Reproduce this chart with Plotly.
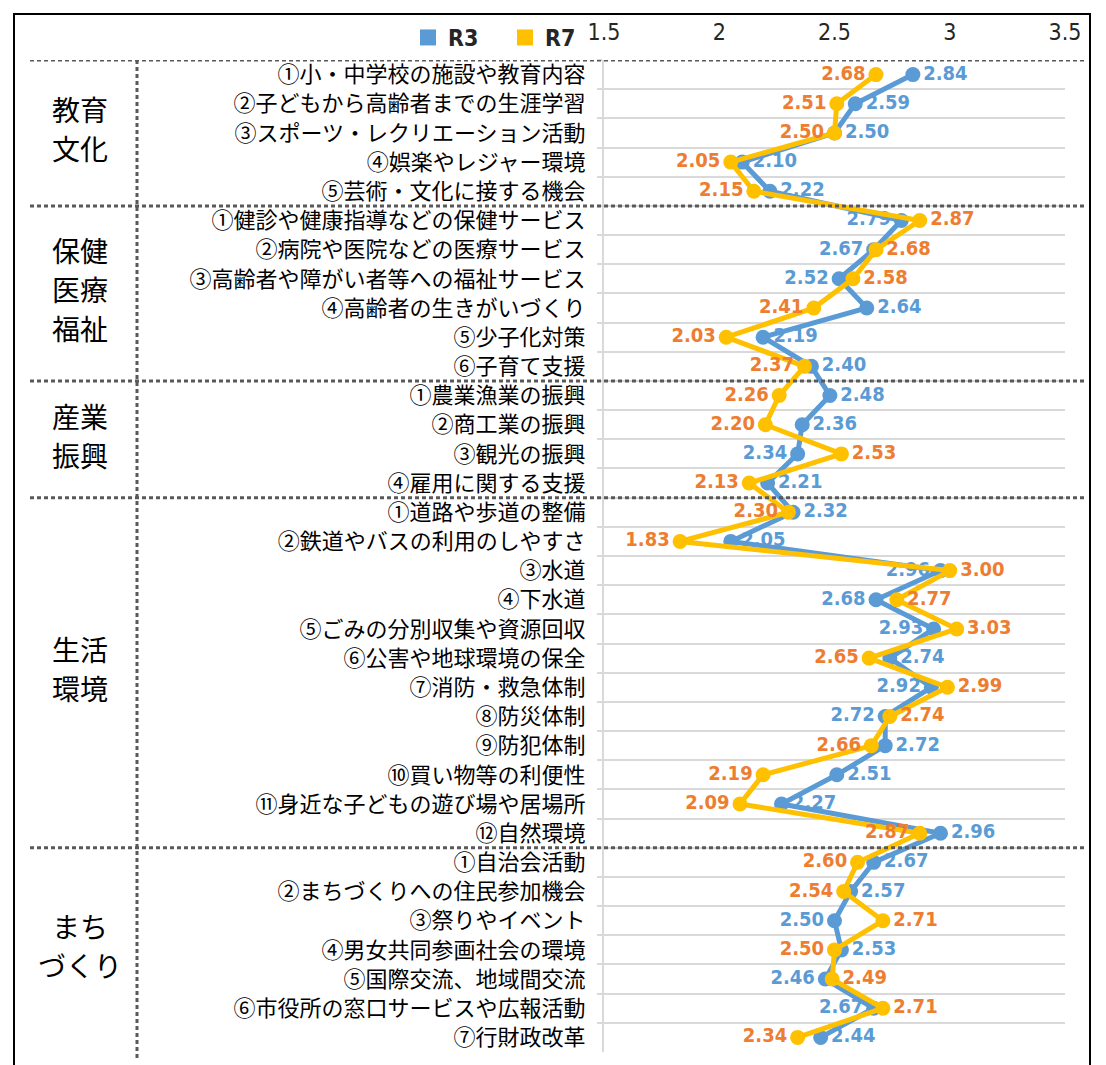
import plotly.graph_objects as go

groups = [["教育", "文化"], ["保健", "医療", "福祉"], ["産業", "振興"], ["生活", "環境"], ["まち", "づくり"]]
group_sizes = [5, 6, 4, 12, 7]

categories = [
    "①小・中学校の施設や教育内容",
    "②子どもから高齢者までの生涯学習",
    "③スポーツ・レクリエーション活動",
    "④娯楽やレジャー環境",
    "⑤芸術・文化に接する機会",
    "①健診や健康指導などの保健サービス",
    "②病院や医院などの医療サービス",
    "③高齢者や障がい者等への福祉サービス",
    "④高齢者の生きがいづくり",
    "⑤少子化対策",
    "⑥子育て支援",
    "①農業漁業の振興",
    "②商工業の振興",
    "③観光の振興",
    "④雇用に関する支援",
    "①道路や歩道の整備",
    "②鉄道やバスの利用のしやすさ",
    "③水道",
    "④下水道",
    "⑤ごみの分別収集や資源回収",
    "⑥公害や地球環境の保全",
    "⑦消防・救急体制",
    "⑧防災体制",
    "⑨防犯体制",
    "⑩買い物等の利便性",
    "⑪身近な子どもの遊び場や居場所",
    "⑫自然環境",
    "①自治会活動",
    "②まちづくりへの住民参加機会",
    "③祭りやイベント",
    "④男女共同参画社会の環境",
    "⑤国際交流、地域間交流",
    "⑥市役所の窓口サービスや広報活動",
    "⑦行財政改革",
]

r3 = [2.84, 2.59, 2.50, 2.10, 2.22,
      2.79, 2.67, 2.52, 2.64, 2.19, 2.40,
      2.48, 2.36, 2.34, 2.21,
      2.32, 2.05, 2.96, 2.68, 2.93, 2.74, 2.92, 2.72, 2.72, 2.51, 2.27, 2.96,
      2.67, 2.57, 2.50, 2.53, 2.46, 2.67, 2.44]

r7 = [2.68, 2.51, 2.50, 2.05, 2.15,
      2.87, 2.68, 2.58, 2.41, 2.03, 2.37,
      2.26, 2.20, 2.53, 2.13,
      2.30, 1.83, 3.00, 2.77, 3.03, 2.65, 2.99, 2.74, 2.66, 2.19, 2.09, 2.87,
      2.60, 2.54, 2.71, 2.50, 2.49, 2.71, 2.34]

x_ticks = [1.5, 2, 2.5, 3, 3.5]
x_tick_labels = ["1.5", "2", "2.5", "3", "3.5"]

BLUE = "#5B9BD5"
YELLOW = "#FFC000"
ORANGE = "#ED7D31"
NUM_FONT = "Liberation Sans Narrow, DejaVu Sans Condensed, Roboto Condensed, Noto Sans"
JP_FONT = "Noto Sans CJK JP"

W, H = 1106, 1065
L, R, T, B = 604, 41, 60, 13
pw = W - L - R
ph = H - T - B
n = len(categories)
row_px = ph / n


def px_to_paper_x(px):
    return (px - L) / pw


def px_to_paper_y(py):
    return (H - B - py) / ph


pos_r3 = ["middle right" if a >= b else "middle left" for a, b in zip(r3, r7)]
pos_r7 = ["middle left" if a >= b else "middle right" for a, b in zip(r3, r7)]

fig = go.Figure()
fig.add_trace(go.Scatter(
    x=r3, y=categories, mode="lines+markers+text", name="R3",
    line=dict(color=BLUE, width=5), marker=dict(color=BLUE, size=15),
    text=[f"{v:.2f}" for v in r3], textposition=pos_r3,
    textfont=dict(color=BLUE, size=20, family=NUM_FONT, weight="bold"),
    showlegend=False, cliponaxis=False,
))
fig.add_trace(go.Scatter(
    x=r7, y=categories, mode="lines+markers+text", name="R7",
    line=dict(color=YELLOW, width=5), marker=dict(color=YELLOW, size=15),
    text=[f"{v:.2f}" for v in r7], textposition=pos_r7,
    textfont=dict(color=ORANGE, size=20, family=NUM_FONT, weight="bold"),
    showlegend=False, cliponaxis=False,
))
# legend entries (square swatches)
for nm, col in [("R3", BLUE), ("R7", YELLOW)]:
    fig.add_trace(go.Scatter(
        x=[None], y=[None], mode="markers", name=nm,
        marker=dict(symbol="square", color=col, size=18),
    ))

shapes = []
DOT = "4px,3px"
bounds = [-0.5]
acc = -0.5
for s in group_sizes[:-1]:
    acc += s
    bounds.append(acc)
for b in bounds:
    shapes.append(dict(type="line", xref="paper", yref="y",
                       x0=px_to_paper_x(30), x1=px_to_paper_x(1086), y0=b, y1=b,
                       line=dict(color="#595959", width=3, dash=DOT)))
shapes.append(dict(type="line", xref="paper", yref="paper",
                   x0=px_to_paper_x(137), x1=px_to_paper_x(137),
                   y0=px_to_paper_y(60), y1=px_to_paper_y(1058),
                   line=dict(color="#595959", width=3, dash=DOT)))
shapes.append(dict(type="rect", xref="paper", yref="paper",
                   x0=px_to_paper_x(14), x1=px_to_paper_x(1090),
                   y0=px_to_paper_y(1075), y1=px_to_paper_y(14),
                   line=dict(color="#000000", width=2), fillcolor="rgba(0,0,0,0)"))

annotations = []
LINE_GAP = 39  # px between lines of a group label
start = 0
for g, s in zip(groups, group_sizes):
    mid_px = T + (start + s / 2) * row_px - 4
    k = len(g)
    for i, part in enumerate(g):
        py = mid_px + (i - (k - 1) / 2) * LINE_GAP
        annotations.append(dict(
            text=part, xref="paper", yref="paper",
            x=px_to_paper_x(80), y=px_to_paper_y(py),
            showarrow=False, xanchor="center", yanchor="middle", align="center",
            font=dict(family=JP_FONT, size=28, color="#000000"),
        ))
    start += s

fig.update_layout(
    width=W, height=H,
    margin=dict(l=L, r=R, t=T, b=B, autoexpand=False),
    paper_bgcolor="white", plot_bgcolor="white",
    shapes=shapes, annotations=annotations,
    legend=dict(orientation="h", x=px_to_paper_x(408), y=px_to_paper_y(16),
                xanchor="left", yanchor="top",
                font=dict(family=NUM_FONT, size=23, color="#262626", weight="bold"),
                bgcolor="rgba(0,0,0,0)", itemwidth=30, tracegroupgap=0,
                entrywidth=52, entrywidthmode="pixels"),
    xaxis=dict(
        side="top", range=[1.5, 3.5], tickvals=x_ticks, ticktext=x_tick_labels,
        showgrid=False, zeroline=False, showline=False,
        ticks="outside", ticklen=10, tickcolor="rgba(0,0,0,0)",
        tickfont=dict(family=NUM_FONT, size=23, color="#262626"),
    ),
    yaxis=dict(
        type="category", categoryorder="array", categoryarray=categories,
        range=[n - 0.5, -0.5], tickson="boundaries",
        showgrid=True, gridcolor="#d9d9d9", gridwidth=2,
        showline=True, linecolor="#d9d9d9", linewidth=2,
        ticks="outside", ticklen=5, tickcolor="#d9d9d9", tickwidth=2,
        ticklabelstandoff=12,
        tickfont=dict(family=JP_FONT, size=22, color="#000000"),
        zeroline=False,
    ),
)

fig.write_html(
    "out.html",
    config={"displayModeBar": False},
    post_script="document.body.style.margin='0px';document.body.style.overflow='hidden';",
)
